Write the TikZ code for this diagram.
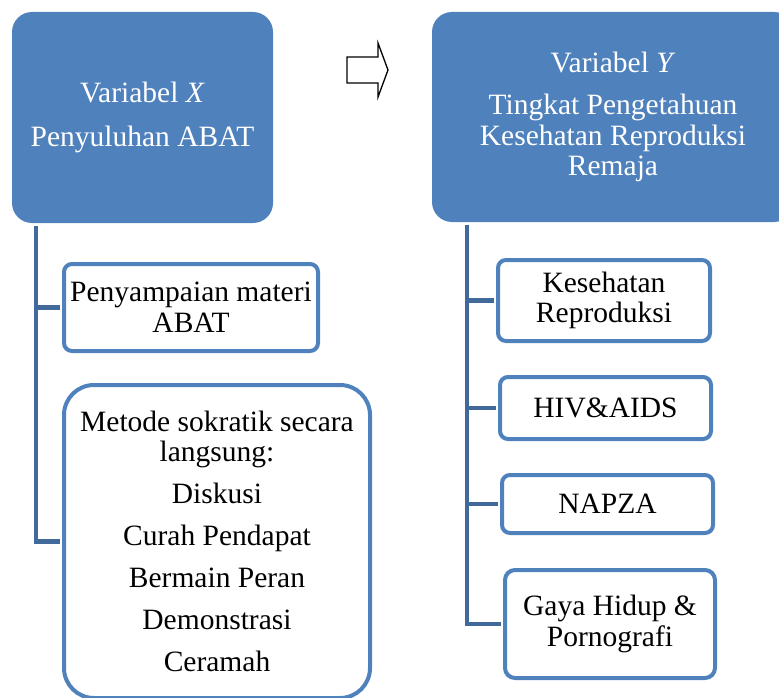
\documentclass[tikz,border=0pt]{standalone}
\usepackage{fontspec}
\setmainfont{Liberation Serif}
\usetikzlibrary{positioning, calc}

\definecolor{accentblue}{HTML}{4F81BD}
\definecolor{linkblue}{HTML}{41699A}

\begin{document}
\begin{tikzpicture}[x=1pt, y=-1pt,
        varbox/.style={fill=accentblue, rounded corners=20pt, text=white, align=center, inner sep=0pt},
        item/.style={draw=accentblue, line width=4pt, rounded corners=8pt, fill=white, align=center, inner sep=0pt},
        link/.style={draw=linkblue, line width=4.5pt, shorten >=2pt},
        every node/.style={font=\fontsize{29.5}{30.5}\selectfont}
    ]
    \useasboundingbox (0,0) rectangle (779,698);

    % Variable X
    \node[varbox, minimum width=261pt, minimum height=211pt] (varX) at (142.5,117.5) {Variabel \textit{X}\\[13pt] Penyuluhan ABAT};
    \node[item, minimum width=254pt, minimum height=87pt] (materi) at (191,307.5) {Penyampaian materi\\ ABAT};
    \node[item, rounded corners=30pt, minimum width=306pt, minimum height=313pt] (metode) at (217,541.5) {Metode sokratik secara\\ langsung:\\[11.5pt] Diskusi\\[11.5pt] Curah Pendapat\\[11.5pt] Bermain Peran\\[11.5pt] Demonstrasi\\[11.5pt] Ceramah};

    % Variable Y
    \node[varbox, minimum width=362pt, minimum height=210pt] (varY) at (613,117) {Variabel \textit{Y}\\[11.5pt] Tingkat Pengetahuan\\ Kesehatan Reproduksi\\ Remaja};
    \node[item, minimum width=212pt, minimum height=81pt] (kespro) at (604,300.5) {Kesehatan\\ Reproduksi};
    \node[item, minimum width=211pt, minimum height=62pt] (hiv) at (605.5,408) {HIV\&AIDS};
    \node[item, minimum width=211pt, minimum height=58pt] (napza) at (607.5,504) {NAPZA};
    \node[item, rounded corners=10pt, minimum width=210pt, minimum height=108pt] (gaya) at (610,624) {Gaya Hidup \&\\ Pornografi};

    % Trunks
    \coordinate (trunkX) at ($(varX.south west)+(24,3)$);
    \coordinate (trunkY) at ($(varY.south west)+(35,3)$);
    \draw[link] (trunkX) |- (materi.west);
    \draw[link] (trunkX) |- (metode.west);
    \draw[link] (trunkY) |- (kespro.west);
    \draw[link] (trunkY) |- (hiv.west);
    \draw[link] (trunkY) |- (napza.west);
    \draw[link] (trunkY) |- (gaya.west);

    % Block arrow X to Y
    \draw[line width=1.3pt, line join=miter, fill=white] (347,57) -- (378,57) -- (378,43) -- (388,70) -- (378,97) -- (378,83) -- (347,83) -- cycle;

\end{tikzpicture}
\end{document}
